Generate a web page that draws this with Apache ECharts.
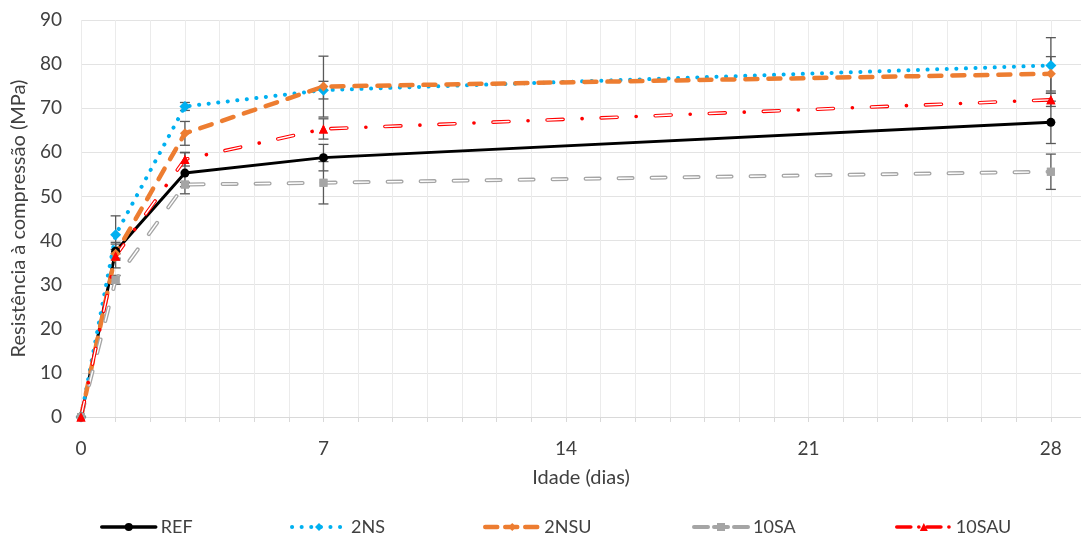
<!DOCTYPE html>
<html><head><meta charset="utf-8">
<script src="https://cdn.jsdelivr.net/npm/echarts@6/dist/echarts.min.js"></script>
<style>html,body{margin:0;padding:0;background:#fff}#c{width:1081px;height:536px}</style>
</head><body><div id="c"></div>
<script>
// ---- data ----
const days = [0, 1, 3, 7, 28];
const xTickLabels = [0, 7, 14, 21, 28];
const yTickLabels = [0, 10, 20, 30, 40, 50, 60, 70, 80, 90];
const seriesNames = ['REF', '2NS', '2NSU', '10SA', '10SAU'];
const refVals  = [0, 37.6, 55.3, 58.8, 66.8];
const ns2Vals  = [0, 41.3, 70.4, 74.1, 79.7];
const nsu2Vals = [0, 37.0, 64.3, 74.9, 77.8];
const sa10Vals = [0, 31.1, 52.7, 53.1, 55.6];
const sau10Vals= [0, 36.5, 58.4, 65.3, 71.9];
const refErr   = [0, 2.0, 4.7, 3.0, 4.8];
const ns2Err   = [0, 4.3, 0.9, 2.0, 6.3];
const nsu2Err  = [0, 1.0, 2.7, 6.9, 3.9];
const sa10Err  = [0, 1.0, 0.5, 4.8, 4.0];
const sau10Err = [0, 2.7, 1.5, 2.3, 1.5];

const FONT = 'Lato, "Open Sans", sans-serif';
const TXT = '#404040';

function pts(vals) { return days.map((d, i) => [d, vals[i]]); }

function errSeries(vals, errs) {
  return {
    type: 'custom', silent: true, z: 1,
    data: days.map((d, i) => [d, vals[i] - errs[i], vals[i] + errs[i]]).filter(r => r[2] > r[1]),
    encode: { x: 0, y: [1, 2] },
    renderItem(params, api) {
      const lo = api.coord([api.value(0), api.value(1)]);
      const hi = api.coord([api.value(0), api.value(2)]);
      const w = 5;
      const st = { stroke: '#595959', lineWidth: 1.3 };
      return { type: 'group', children: [
        { type: 'line', shape: { x1: lo[0], y1: lo[1], x2: hi[0], y2: hi[1] }, style: st },
        { type: 'line', shape: { x1: lo[0] - w, y1: lo[1], x2: lo[0] + w, y2: lo[1] }, style: st },
        { type: 'line', shape: { x1: hi[0] - w, y1: hi[1], x2: hi[0] + w, y2: hi[1] }, style: st }
      ]};
    }
  };
}

const series = [
  errSeries(refVals, refErr), errSeries(ns2Vals, ns2Err), errSeries(nsu2Vals, nsu2Err),
  errSeries(sa10Vals, sa10Err), errSeries(sau10Vals, sau10Err),
  { name: seriesNames[0], type: 'line', z: 2, data: pts(refVals), symbol: 'circle', symbolSize: 9,
    itemStyle: { color: '#000' }, lineStyle: { color: '#000', width: 3 } },
  { name: seriesNames[1], type: 'line', z: 2, data: pts(ns2Vals), symbol: 'diamond', symbolSize: 11,
    itemStyle: { color: '#00B0F0' }, lineStyle: { color: '#00B0F0', width: 4, type: [0.1, 9.5], cap: 'round' } },
  { name: seriesNames[2], type: 'line', z: 2, data: pts(nsu2Vals), symbol: 'diamond', symbolSize: 10,
    itemStyle: { color: '#ED7D31' }, lineStyle: { color: '#ED7D31', width: 4.5, type: [12, 11], cap: 'round' } },
  { name: seriesNames[3], type: 'line', z: 2, data: pts(sa10Vals), symbol: 'rect', symbolSize: 8,
    itemStyle: { color: '#A5A5A5' }, lineStyle: { color: '#A5A5A5', width: 4, type: [14, 19], cap: 'round' } },
  { name: '10SA_in', type: 'line', z: 2, silent: true, data: pts(sa10Vals), symbol: 'rect', symbolSize: 8,
    itemStyle: { color: '#A5A5A5' }, lineStyle: { color: '#fff', width: 1.4, type: [14, 19], cap: 'round' } },
  { name: seriesNames[4], type: 'line', z: 2, data: pts(sau10Vals), symbol: 'triangle', symbolSize: 9,
    itemStyle: { color: '#FF0000' }, lineStyle: { color: '#FF0000', width: 3.6, type: [16, 19, 0.1, 19], cap: 'round' } },
  { name: '10SAU_in', type: 'line', z: 2, silent: true, data: pts(sau10Vals), symbol: 'triangle', symbolSize: 9,
    itemStyle: { color: '#FF0000' }, lineStyle: { color: '#fff', width: 1.4, type: [16, 38.1], cap: 'round' } }
];

const legendLeft = [100, 290, 483, 692, 895];
const legendLineW = [3.5, 4, 4.5, 4, 3.6];
const legendDash = ['solid', [0.1, 9.5], [12, 8], [14, 6], [14, 8, 0.1, 8]];
const legends = seriesNames.map((n, i) => ({
  data: [n], left: legendLeft[i], top: 518, padding: 0,
  itemWidth: 54, itemHeight: 10, itemGap: 6,
  lineStyle: { width: legendLineW[i], type: legendDash[i], cap: 'round' },
  textStyle: { fontFamily: FONT, fontSize: 18, color: TXT }, selectedMode: false
}));

const chart = echarts.init(document.getElementById('c'), null, { renderer: 'canvas' });
chart.setOption({
  animation: false,
  backgroundColor: '#fff',
  grid: { left: 81, right: 0, top: 20, bottom: 119 },
  legend: legends,
  xAxis: {
    type: 'value', min: 0, max: 28.87, interval: 1,
    name: 'Idade (dias)', nameLocation: 'middle', nameGap: 51,
    nameTextStyle: { fontFamily: FONT, fontSize: 20, color: TXT },
    axisLine: { show: true, lineStyle: { color: '#d9d9d9', width: 1 } },
    axisTick: { show: true, length: 5, lineStyle: { color: '#d9d9d9' } },
    splitLine: { show: true, lineStyle: { color: '#ebebeb', width: 1 } },
    axisLabel: {
      interval: 0, margin: 22, fontFamily: FONT, fontSize: 19, color: TXT,
      showMaxLabel: false,
      formatter: v => (xTickLabels.indexOf(v) >= 0 ? String(v) : '')
    }
  },
  yAxis: {
    type: 'value', min: 0, max: 90, interval: 10,
    name: 'Resistência à compressão (MPa)', nameLocation: 'middle', nameGap: 52, nameRotate: 90,
    nameTextStyle: { fontFamily: FONT, fontSize: 20, color: TXT },
    axisLine: { show: false }, axisTick: { show: false },
    splitLine: { show: true, lineStyle: { color: '#e3e3e3', width: 1 } },
    axisLabel: {
      margin: 19, fontFamily: FONT, fontSize: 19, color: TXT,
      formatter: v => (yTickLabels.indexOf(v) >= 0 ? String(v) : '')
    }
  },
  series: series
});
</script>
</body></html>
